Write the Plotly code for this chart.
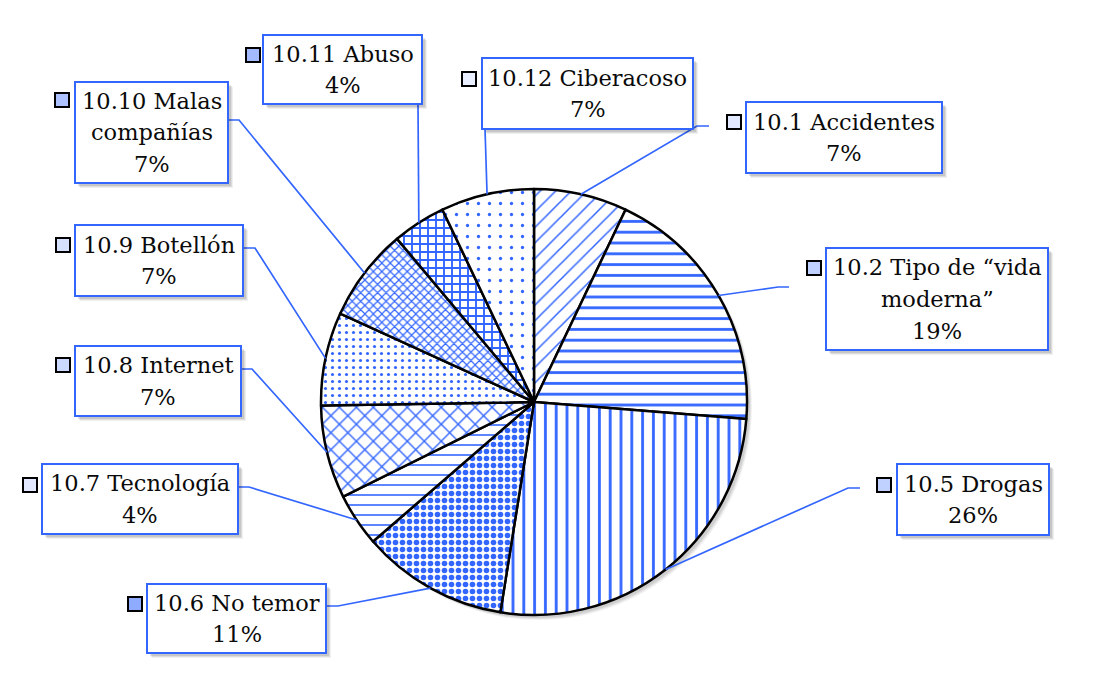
import math
import plotly.graph_objects as go

# ---- data -------------------------------------------------------------
categories = [
    "10.1 Accidentes",
    "10.2 Tipo de “vida moderna”",
    "10.5 Drogas",
    "10.6 No temor",
    "10.7 Tecnología",
    "10.8 Internet",
    "10.9 Botellón",
    "10.10 Malas compañías",
    "10.11 Abuso",
    "10.12 Ciberacoso",
]
values = [7, 19, 26, 11, 4, 7, 7, 7, 4, 7]

# ---- styling ----------------------------------------------------------
W, H = 1120, 673
BLUE = "#3366FF"
FONT = "'DejaVu Serif', 'Liberation Serif', serif"
FS = 22.5
LINE_GAP = 31.5

# pie placement in pixels
CX, CY, R = 534, 402, 213

# hatch pattern per slice
pat_shape = ["/", "-", "|", ".", "-", "x", ".", "x", "+", "."]
pat_size = [11, 10.8, 10.8, 7, 10, 12, 7, 6, 8, 11]
pat_solid = [0.14, 0.26, 0.26, 0.5, 0.16, 0.22, 0.16, 0.36, 0.42, 0.07]
icon_alpha = [0.15, 0.3, 0.3, 0.55, 0.15, 0.25, 0.2, 0.4, 0.45, 0.1]

# wrapped label lines
wrap = {
    "10.2 Tipo de “vida moderna”": ["10.2 Tipo de “vida", "moderna”"],
    "10.10 Malas compañías": ["10.10 Malas", "compañías"],
}

# callout boxes: box (x0, y0, x1, y1), icon top-left, leader start, optional elbow
callouts = [
    dict(box=(746, 102, 942, 173), icon=(727, 115), start=(709, 126), elbow=(697, 126)),
    dict(box=(826, 248, 1048, 350), icon=(807, 261), start=(789, 287), elbow=(778, 287)),
    dict(box=(897, 464, 1049, 535), icon=(877, 478), start=(860, 488), elbow=(848, 488)),
    dict(box=(147, 584, 326, 653), icon=(128, 597), start=(326, 606), elbow=(338, 606)),
    dict(box=(42, 464, 238, 534), icon=(23, 478), start=(238, 487), elbow=(249, 487)),
    dict(box=(75, 346, 241, 416), icon=(56, 358), start=(241, 369), elbow=(252, 369)),
    dict(box=(75, 225, 243, 296), icon=(56, 238), start=(243, 248), elbow=(255, 248)),
    dict(box=(75, 82, 228, 183), icon=(55, 93), start=(228, 120), elbow=(239, 120)),
    dict(box=(263, 35, 422, 104), icon=(246, 48), start=(418, 104), elbow=None),
    dict(box=(482, 58, 693, 129), icon=(462, 72), start=(485, 129), elbow=None),
]


def px(x):
    return x / W


def py(y):
    return 1 - y / H


fig = go.Figure()

fig.add_trace(go.Pie(
    labels=categories,
    values=values,
    sort=False,
    direction="clockwise",
    rotation=0,
    textinfo="none",
    hoverinfo="label+percent",
    showlegend=False,
    marker=dict(
        colors=["white"] * len(values),
        line=dict(color="black", width=2.5),
        pattern=dict(
            shape=pat_shape,
            size=pat_size,
            solidity=pat_solid,
            fgcolor=BLUE,
            bgcolor="white",
            fillmode="replace",
        ),
    ),
    domain=dict(x=[px(CX - R), px(CX + R)], y=[py(CY + R), py(CY - R)]),
))

shapes = []
annotations = []

# soft shadow behind the pie
for off, a in [(5, 0.05), (4, 0.07), (3, 0.08)]:
    shapes.append(dict(
        type="circle", xref="paper", yref="paper", layer="below",
        x0=px(CX - R + off), x1=px(CX + R + off),
        y0=py(CY + R + off), y1=py(CY - R + off),
        fillcolor=f"rgba(0,0,0,{a})", line=dict(width=0),
    ))

total = sum(values)
cum = 0
for i, (cat, v) in enumerate(zip(categories, values)):
    mid = (cum + v / 2) / total * 2 * math.pi
    cum += v
    ex = CX + R * math.sin(mid)
    ey = CY - R * math.cos(mid)
    c = callouts[i]

    # leader line from the box to the slice edge
    pts = [c["start"]]
    if c["elbow"]:
        pts.append(c["elbow"])
    pts.append((ex, ey))
    path = "M " + " L ".join(f"{px(x):.5f},{py(y):.5f}" for x, y in pts)
    shapes.append(dict(type="path", xref="paper", yref="paper", path=path,
                       line=dict(color=BLUE, width=1.7)))

    x0, y0, x1, y1 = c["box"]
    # box shadow
    for off, a in [(5, 0.06), (4, 0.08), (3, 0.1)]:
        shapes.append(dict(
            type="rect", xref="paper", yref="paper",
            x0=px(x0 + off), x1=px(x1 + off), y0=py(y1 + off), y1=py(y0 + off),
            fillcolor=f"rgba(0,0,0,{a})", line=dict(width=0),
        ))
    shapes.append(dict(
        type="rect", xref="paper", yref="paper",
        x0=px(x0), x1=px(x1), y0=py(y1), y1=py(y0),
        fillcolor="white", line=dict(color=BLUE, width=2),
    ))

    # legend key square
    ix, iy = c["icon"]
    shapes.append(dict(
        type="rect", xref="paper", yref="paper",
        x0=px(ix), x1=px(ix + 14), y0=py(iy + 14), y1=py(iy),
        fillcolor=f"rgba(51,102,255,{icon_alpha[i]})",
        line=dict(color="black", width=2),
    ))

    # label text lines
    lines = wrap.get(cat, [cat]) + [f"{v}%"]
    n = len(lines)
    yc = (y0 + y1) / 2
    xc = (x0 + x1) / 2
    for k, t in enumerate(lines):
        ly = yc + (k - (n - 1) / 2) * LINE_GAP
        annotations.append(dict(
            x=px(xc), y=py(ly), xref="paper", yref="paper",
            text=t, showarrow=False, xanchor="center", yanchor="middle",
            font=dict(family=FONT, size=FS, color="#0a0a0a"),
        ))

fig.update_layout(
    width=W, height=H,
    margin=dict(l=0, r=0, t=0, b=0),
    paper_bgcolor="white",
    plot_bgcolor="white",
    shapes=shapes,
    annotations=annotations,
)

fig.write_html("out.html")
